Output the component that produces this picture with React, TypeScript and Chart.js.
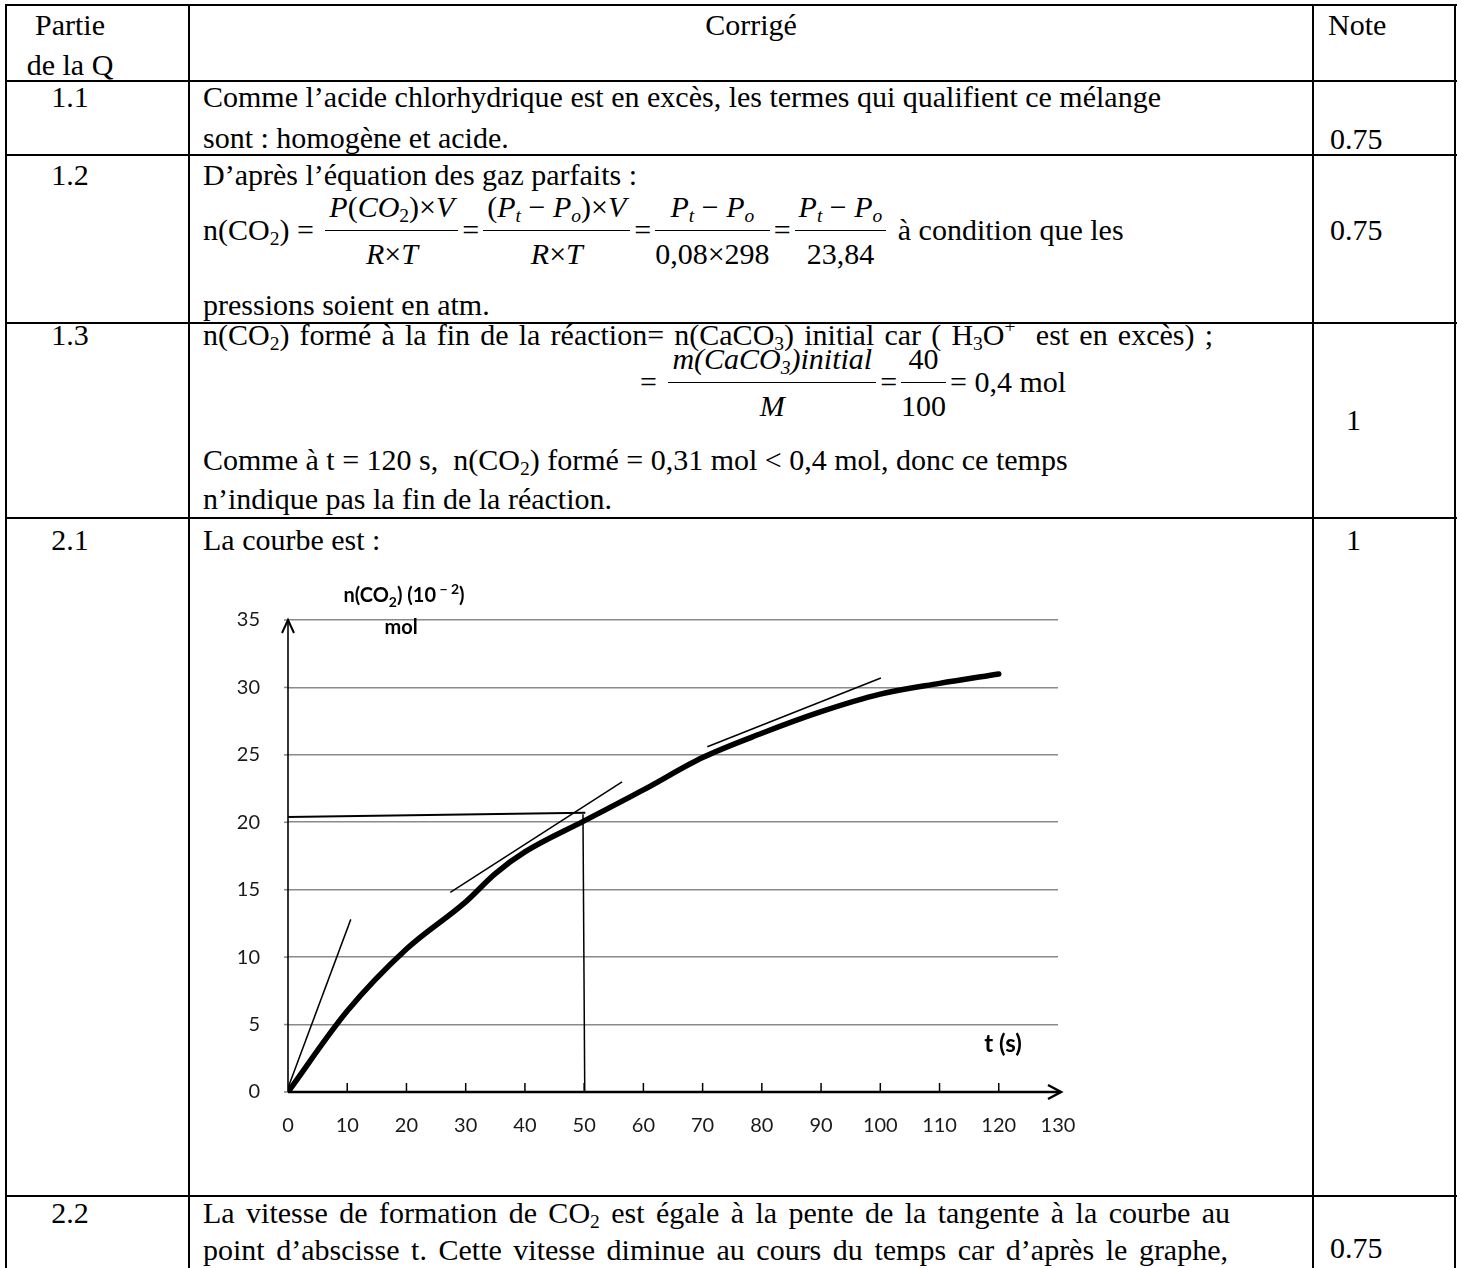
import React, { useEffect, useRef } from "react";
import { Chart, registerables } from "chart.js";

Chart.register(...registerables);

// ---- data ----
const timeS = [0, 10, 20, 30, 35, 40, 50, 60, 70, 80, 90, 100, 110, 120];
const nCO2 = [0, 6.0, 10.6, 14.1, 16.2, 17.8, 20.1, 22.4, 24.8, 26.6, 28.2, 29.5, 30.3, 31.0];

const xTickValues = [0, 10, 20, 30, 40, 50, 60, 70, 80, 90, 100, 110, 120, 130];
const yTickValues = [0, 5, 10, 15, 20, 25, 30, 35];

const tangentOriginT = [0, 10.6];
const tangentOriginN = [0.3, 12.8];
const tangentMidT = [27.4, 56.4];
const tangentMidN = [14.8, 23.0];
const tangentLateT = [70.8, 100.1];
const tangentLateN = [25.6, 30.7];
const guideHorizT = [0, 50.2];
const guideHorizN = [20.4, 20.7];
const guideVertT = [49.8, 50.1];
const guideVertN = [20.6, 0.1];

const toPoints = (xs: number[], ys: number[]) => xs.map((x, i) => ({ x, y: ys[i] }));

const arrowAxes = {
  id: "arrowAxes",
  beforeDatasetsDraw(chart: any) {
    const { ctx } = chart;
    const x = chart.scales.x;
    const y = chart.scales.y;
    const x0 = x.getPixelForValue(xTickValues[0]);
    const xEnd = x.getPixelForValue(xTickValues[xTickValues.length - 1]);
    const y0 = y.getPixelForValue(yTickValues[0]);
    const yEnd = y.getPixelForValue(yTickValues[yTickValues.length - 1]);
    ctx.save();
    ctx.lineCap = "butt";
    // small outside stubs of the gridlines
    ctx.strokeStyle = "#8a8a8a";
    ctx.lineWidth = 1.6;
    yTickValues.forEach((v) => {
      const py = y.getPixelForValue(v);
      ctx.beginPath();
      ctx.moveTo(x0 - 4, py);
      ctx.lineTo(x0, py);
      ctx.stroke();
    });
    ctx.strokeStyle = "#000";
    // vertical axis + arrow
    ctx.lineWidth = 1.6;
    ctx.beginPath();
    ctx.moveTo(x0, y0);
    ctx.lineTo(x0, yEnd);
    ctx.stroke();
    ctx.lineWidth = 2;
    ctx.beginPath();
    ctx.moveTo(x0 - 6, yEnd + 13);
    ctx.lineTo(x0, yEnd);
    ctx.lineTo(x0 + 6, yEnd + 13);
    ctx.stroke();
    // horizontal axis + arrow
    ctx.lineWidth = 2.5;
    ctx.beginPath();
    ctx.moveTo(x0, y0);
    ctx.lineTo(xEnd + 3, y0);
    ctx.stroke();
    ctx.beginPath();
    ctx.moveTo(xEnd - 10, y0 - 7);
    ctx.lineTo(xEnd + 3, y0);
    ctx.lineTo(xEnd - 10, y0 + 7);
    ctx.stroke();
    // tick marks above the axis
    ctx.lineWidth = 1.5;
    xTickValues.slice(1, -1).forEach((v) => {
      const px = x.getPixelForValue(v);
      ctx.beginPath();
      ctx.moveTo(px, y0);
      ctx.lineTo(px, y0 - 9);
      ctx.stroke();
    });
    ctx.restore();
  },
};

function CurveChart() {
  const ref = useRef<HTMLCanvasElement | null>(null);
  useEffect(() => {
    if (!ref.current) return;
    const thin = { borderColor: "#000", borderWidth: 1.5, pointRadius: 0, tension: 0, fill: false };
    const chart = new Chart(ref.current, {
      type: "line",
      data: {
        datasets: [
          { ...thin, data: toPoints(tangentOriginT, tangentOriginN) },
          { ...thin, data: toPoints(tangentMidT, tangentMidN) },
          { ...thin, data: toPoints(tangentLateT, tangentLateN) },
          { ...thin, borderWidth: 2, data: toPoints(guideHorizT, guideHorizN) },
          { ...thin, data: toPoints(guideVertT, guideVertN) },
          {
            data: toPoints(timeS, nCO2),
            borderColor: "#000",
            borderWidth: 5.5,
            pointRadius: 0,
            cubicInterpolationMode: "monotone",
            fill: false,
            borderCapStyle: "round",
          } as any,
        ],
      },
      options: {
        animation: false,
        responsive: false,
        devicePixelRatio: 1,
        layout: { padding: { top: 60, right: 42, left: 0, bottom: 0 } },
        plugins: { legend: { display: false }, tooltip: { enabled: false }, title: { display: false } },
        scales: {
          x: {
            type: "linear",
            min: 0,
            max: 130,
            afterBuildTicks: (s: any) => {
              s.ticks = xTickValues.map((v) => ({ value: v }));
            },
            afterFit: (s: any) => {
              s.height = 68;
            },
            grid: { display: false, drawTicks: false },
            border: { display: false },
            ticks: {
              padding: 22,
              autoSkip: false,
              maxRotation: 0,
              color: "#1a1a1a",
              font: { family: "Lato", size: 20 },
            },
          },
          y: {
            type: "linear",
            min: 0,
            max: 35,
            afterBuildTicks: (s: any) => {
              s.ticks = yTickValues.map((v) => ({ value: v }));
            },
            afterFit: (s: any) => {
              s.width = 88;
            },
            grid: { color: "#8a8a8a", lineWidth: 1.6, drawTicks: false },
            border: { display: false },
            ticks: {
              padding: 28,
              color: "#1a1a1a",
              font: { family: "Lato", size: 20 },
            },
          },
        },
      } as any,
      plugins: [arrowAxes],
    });
    return () => chart.destroy();
  }, []);
  return (
    <canvas
      ref={ref}
      width={900}
      height={600}
      style={{ position: "absolute", left: 200, top: 560, width: 900, height: 600 }}
    />
  );
}

const sub: React.CSSProperties = { fontSize: "0.65em", verticalAlign: "-0.28em", lineHeight: 0 };
const sup: React.CSSProperties = { fontSize: "0.65em", verticalAlign: "0.6em", lineHeight: 0 };
const it: React.CSSProperties = { fontStyle: "italic" };

function L(props: { x: number; y: number; children: React.ReactNode; style?: React.CSSProperties }) {
  return (
    <div
      style={{
        position: "absolute",
        left: props.x,
        top: props.y - 20,
        lineHeight: "40px",
        whiteSpace: "pre",
        ...props.style,
      }}
    >
      {props.children}
    </div>
  );
}

function J(props: { x: number; y: number; w: number; children: React.ReactNode }) {
  return (
    <div
      style={{
        position: "absolute",
        left: props.x,
        top: props.y - 20,
        width: props.w,
        lineHeight: "40px",
        textAlign: "justify",
        textAlignLast: "justify",
      }}
    >
      {props.children}
    </div>
  );
}

function C1(props: { y: number; children: React.ReactNode }) {
  return (
    <div
      style={{
        position: "absolute",
        left: 6,
        width: 128,
        top: props.y - 20,
        lineHeight: "40px",
        textAlign: "center",
        whiteSpace: "pre",
      }}
    >
      {props.children}
    </div>
  );
}

function Frac(props: { num: React.ReactNode; den: React.ReactNode; pad?: number }) {
  const p = props.pad ?? 4;
  return (
    <span
      style={{
        display: "inline-flex",
        flexDirection: "column",
        alignItems: "center",
        margin: "0 4px",
      }}
    >
      <span style={{ lineHeight: "36px", padding: `0 ${p}px 5px`, whiteSpace: "pre" }}>{props.num}</span>
      <span style={{ borderTop: "1.5px solid #000", alignSelf: "stretch" }} />
      <span style={{ lineHeight: "36px", paddingTop: 5, whiteSpace: "pre" }}>{props.den}</span>
    </span>
  );
}

function FormulaRow(props: { x: number; y: number; children: React.ReactNode }) {
  return (
    <div
      style={{
        position: "absolute",
        left: props.x,
        top: props.y - 42,
        height: 84,
        display: "flex",
        alignItems: "center",
        whiteSpace: "pre",
        lineHeight: "40px",
      }}
    >
      {props.children}
    </div>
  );
}

const hLines = [5, 81, 155, 323, 518, 1196];
const vLines = [6, 189, 1313, 1455];

export default function App() {
  return (
    <div
      style={{
        position: "absolute",
        left: 0,
        top: 0,
        width: 1462,
        height: 1268,
        overflow: "hidden",
        background: "#fff",
        color: "#000",
        fontFamily: '"Liberation Serif", "Times New Roman", serif',
        fontSize: 30,
      }}
    >
      {hLines.map((y) => (
        <div key={"h" + y} style={{ position: "absolute", left: 5, top: y - 1, width: 1452, height: 2.4, background: "#000" }} />
      ))}
      {vLines.map((x) => (
        <div key={"v" + x} style={{ position: "absolute", left: x - 1, top: 4, width: 2.4, height: 1270, background: "#000" }} />
      ))}

      {/* header */}
      <C1 y={25}>Partie</C1>
      <C1 y={65}>de la Q</C1>
      <div style={{ position: "absolute", left: 189, width: 1124, top: 5, lineHeight: "40px", textAlign: "center" }}>Corrigé</div>
      <L x={1328} y={25}>Note</L>

      {/* 1.1 */}
      <C1 y={97}>1.1</C1>
      <L x={203} y={97}>Comme l’acide chlorhydrique est en excès, les termes qui qualifient ce mélange</L>
      <L x={203} y={138}>sont : homogène et acide.</L>
      <L x={1330} y={139}>0.75</L>

      {/* 1.2 */}
      <C1 y={175}>1.2</C1>
      <L x={203} y={175}>D’après l’équation des gaz parfaits :</L>
      <FormulaRow x={203} y={230}>
        <span>
          n(CO<span style={sub}>2</span>) ={" "}
        </span>
        <Frac
          num={
            <span>
              <span style={it}>P</span>(<span style={it}>CO</span>
              <span style={sub}>2</span>)×<span style={it}>V</span>
            </span>
          }
          den={
            <span>
              <span style={it}>R</span>×<span style={it}>T</span>
            </span>
          }
        />
        <span>=</span>
        <Frac
          num={
            <span>
              (<span style={it}>P</span>
              <span style={{ ...sub, ...it }}>t</span> − <span style={it}>P</span>
              <span style={{ ...sub, ...it }}>o</span>)×<span style={it}>V</span>
            </span>
          }
          den={
            <span>
              <span style={it}>R</span>×<span style={it}>T</span>
            </span>
          }
        />
        <span>=</span>
        <Frac
          num={
            <span>
              <span style={it}>P</span>
              <span style={{ ...sub, ...it }}>t</span> − <span style={it}>P</span>
              <span style={{ ...sub, ...it }}>o</span>
            </span>
          }
          den={<span>0,08×298</span>}
        />
        <span>=</span>
        <Frac
          num={
            <span>
              <span style={it}>P</span>
              <span style={{ ...sub, ...it }}>t</span> − <span style={it}>P</span>
              <span style={{ ...sub, ...it }}>o</span>
            </span>
          }
          den={<span>23,84</span>}
        />
        <span> à condition que les</span>
      </FormulaRow>
      <L x={1330} y={230}>0.75</L>
      <L x={203} y={305}>pressions soient en atm.</L>

      {/* 1.3 */}
      <C1 y={335}>1.3</C1>
      <J x={203} y={335} w={1010}>
        n(CO<span style={sub}>2</span>) formé à la fin de la réaction= n(CaCO<span style={sub}>3</span>) initial car ( H
        <span style={sub}>3</span>O<span style={sup}>+</span>&nbsp; est en excès) ;
      </J>
      <FormulaRow x={640} y={382}>
        <span>= </span>
        <Frac
          num={
            <span style={it}>
              m(CaCO<span style={sub}>3</span>)initial
            </span>
          }
          den={<span style={it}>M</span>}
        />
        <span>=</span>
        <Frac num={<span>40</span>} den={<span>100</span>} pad={1} />
        <span>= 0,4 mol</span>
      </FormulaRow>
      <L x={1346} y={420}>1</L>
      <L x={203} y={460}>
        Comme à t = 120 s,&nbsp; n(CO<span style={sub}>2</span>) formé = 0,31 mol &lt; 0,4 mol, donc ce temps
      </L>
      <L x={203} y={499}>n’indique pas la fin de la réaction.</L>

      {/* 2.1 */}
      <C1 y={540}>2.1</C1>
      <L x={203} y={540}>La courbe est :</L>
      <L x={1346} y={540}>1</L>

      <CurveChart />
      <div
        style={{
          position: "absolute",
          left: 304,
          width: 200,
          top: 581,
          lineHeight: "26px",
          textAlign: "center",
          fontFamily: "Lato, sans-serif",
          fontWeight: 700,
          fontSize: 20,
          whiteSpace: "pre",
        }}
      >
        n(CO<span style={{ fontSize: "0.7em", verticalAlign: "-0.35em", lineHeight: 0 }}>2</span>) (10
        <span style={{ fontSize: "0.7em", verticalAlign: "0.6em", lineHeight: 0 }}> − 2</span>)
      </div>
      <div
        style={{
          position: "absolute",
          left: 301,
          width: 200,
          top: 613,
          lineHeight: "26px",
          textAlign: "center",
          fontFamily: "Lato, sans-serif",
          fontWeight: 700,
          fontSize: 20,
        }}
      >
        mol
      </div>
      <div
        style={{
          position: "absolute",
          left: 949,
          width: 108,
          top: 1027,
          lineHeight: "32px",
          textAlign: "center",
          fontFamily: "Lato, sans-serif",
          fontWeight: 700,
          fontSize: 24,
        }}
      >
        t (s)
      </div>

      {/* 2.2 */}
      <C1 y={1213}>2.2</C1>
      <J x={203} y={1213} w={1027}>
        La vitesse de formation de CO<span style={sub}>2</span> est égale à la pente de la tangente à la courbe au
      </J>
      <J x={203} y={1250} w={1025}>
        point d’abscisse t. Cette vitesse diminue au cours du temps car d’après le graphe,
      </J>
      <L x={1330} y={1248}>0.75</L>
    </div>
  );
}
